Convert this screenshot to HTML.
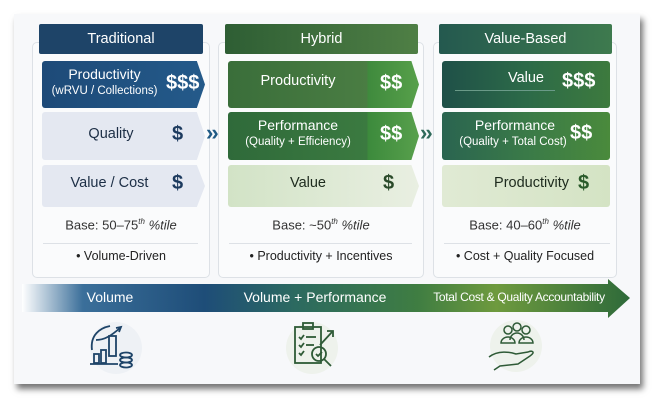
<!DOCTYPE html>
<html><head><meta charset="utf-8"><style>
*{margin:0;padding:0;box-sizing:border-box}
body{width:659px;height:402px;background:#fff;position:relative;overflow:hidden;font-family:"Liberation Sans",sans-serif}
.card{position:absolute;left:14px;top:14px;width:626px;height:370px;background:#f7f8fa;box-shadow:3px 5px 6px rgba(0,0,0,.55)}
.a{position:absolute}
.panel{position:absolute;border:1px solid #dde1e6;border-radius:5px;background:#fafbfc}
.hdr{position:absolute;color:#fff;font-size:14.5px;text-align:center;line-height:30px;border-radius:2px}
.row{position:absolute;display:flex;align-items:center;border-radius:3px}
.lbl{text-align:center;line-height:15px}
.dol{position:absolute;font-size:20px;font-weight:bold}
.base{position:absolute;font-size:13px;color:#333;text-align:center}
.base sup{font-size:8px;font-style:italic}
.base i{font-style:italic}
.hr{position:absolute;height:1px;background:#dde1e6}
.bul{position:absolute;font-size:12.5px;color:#222;text-align:center}
.chev{position:absolute;font-size:22px;font-weight:bold;color:#1f5a85;letter-spacing:-2px}
</style></head><body>
<div class="card"></div>

<!-- Traditional -->
<div class="panel" style="left:32px;top:42px;width:178px;height:236px"></div>
<div class="hdr" style="left:39px;top:24px;width:164px;background:#1e4468">Traditional</div>
<div class="row" style="left:42px;top:61px;width:163px;height:47px;background:linear-gradient(90deg,#1d4a78,#245a8a);clip-path:polygon(0 0,95% 0,100% 50%,95% 100%,0 100%)"></div>
<div class="a lbl" style="left:42px;top:67px;width:125px;color:#fff;font-size:14px">Productivity<br><span style="font-size:11.5px">(wRVU / Collections)</span></div>
<div class="dol" style="left:166px;top:72px;color:#fff">$$$</div>
<div class="row" style="left:42px;top:112px;width:163px;height:48px;background:#e4e8f1;clip-path:polygon(0 0,95% 0,100% 50%,95% 100%,0 100%)"></div>
<div class="a" style="left:42px;top:126px;width:138px;text-align:center;font-size:14.5px;color:#1c2e45">Quality</div>
<div class="dol" style="left:172px;top:123px;color:#1c3a5e">$</div>
<div class="row" style="left:42px;top:165px;width:163px;height:42px;background:#e4e8f1;clip-path:polygon(0 0,95% 0,100% 50%,95% 100%,0 100%)"></div>
<div class="a" style="left:42px;top:175px;width:135px;text-align:center;font-size:14.5px;color:#1c2e45">Value / Cost</div>
<div class="dol" style="left:172px;top:172px;color:#1c3a5e">$</div>
<div class="base" style="left:32px;top:217px;width:178px">Base: 50–75<sup>th</sup> <i>%tile</i></div>
<div class="hr" style="left:43px;top:243px;width:155px"></div>
<div class="bul" style="left:32px;top:249px;width:178px">• Volume-Driven</div>

<div class="chev" style="left:206px;top:120px">››</div>

<!-- Hybrid -->
<div class="panel" style="left:218px;top:42px;width:206px;height:236px"></div>
<div class="hdr" style="left:225px;top:24px;width:193px;background:linear-gradient(90deg,#2e5e34,#4f7f45)">Hybrid</div>
<div class="row" style="left:228px;top:61px;width:191px;height:47px;background:linear-gradient(90deg,#3a6e3a 0,#4a7d43 73%,#3f8a3d 73%,#57a04a);clip-path:polygon(0 0,96% 0,100% 50%,96% 100%,0 100%)"></div>
<div class="a" style="left:228px;top:73px;width:140px;text-align:center;color:#fff;font-size:14.5px">Productivity</div>
<div class="dol" style="left:380px;top:72px;color:#fff">$$</div>
<div class="row" style="left:228px;top:112px;width:191px;height:48px;background:linear-gradient(90deg,#2f6a3a 0,#3b7a40 73%,#3c8a3c 73%,#58a04c);clip-path:polygon(0 0,96% 0,100% 50%,96% 100%,0 100%)"></div>
<div class="a lbl" style="left:228px;top:118px;width:140px;color:#fff;font-size:14px">Performance<br><span style="font-size:11.5px">(Quality + Efficiency)</span></div>
<div class="dol" style="left:380px;top:123px;color:#fff">$$</div>
<div class="row" style="left:228px;top:165px;width:191px;height:42px;background:linear-gradient(90deg,#d2e3c6,#e9efe2);clip-path:polygon(0 0,96% 0,100% 50%,96% 100%,0 100%)"></div>
<div class="a" style="left:228px;top:175px;width:160px;text-align:center;font-size:14.5px;color:#1d2a1d">Value</div>
<div class="dol" style="left:383px;top:172px;color:#2a4a2a">$</div>
<div class="base" style="left:218px;top:217px;width:206px">Base: ~50<sup>th</sup> <i>%tile</i></div>
<div class="hr" style="left:229px;top:243px;width:183px"></div>
<div class="bul" style="left:218px;top:249px;width:206px">• Productivity + Incentives</div>

<div class="chev" style="left:420px;top:120px;color:#2f6a5a">››</div>

<!-- Value-Based -->
<div class="panel" style="left:433px;top:42px;width:184px;height:236px"></div>
<div class="hdr" style="left:439px;top:24px;width:173px;background:linear-gradient(90deg,#24594f,#3e7a4e)">Value-Based</div>
<div class="row" style="left:442px;top:61px;width:168px;height:47px;background:linear-gradient(90deg,#1f5048,#2c6a48,#3d7a3e)"></div>
<div class="a" style="left:442px;top:70px;width:102px;text-align:right;color:#fff;font-size:14.5px">Value</div>
<div class="hr" style="left:455px;top:90px;width:100px;background:#6a9a88"></div>
<div class="dol" style="left:562px;top:70px;color:#fff">$$$</div>
<div class="row" style="left:442px;top:112px;width:168px;height:48px;background:linear-gradient(90deg,#2a6450,#3a7a48,#4a8a3c)"></div>
<div class="a lbl" style="left:456px;top:118px;width:118px;color:#fff;font-size:14px">Performance<br><span style="font-size:11.5px;white-space:nowrap;margin-left:-4px">(Quality + Total Cost)</span></div>
<div class="dol" style="left:570px;top:122px;color:#fff">$$</div>
<div class="row" style="left:442px;top:165px;width:168px;height:42px;background:linear-gradient(90deg,#e0ead4,#d4e3c4)"></div>
<div class="a" style="left:442px;top:175px;width:127px;text-align:right;font-size:14.5px;color:#1d2a1d">Productivity</div>
<div class="dol" style="left:578px;top:172px;color:#2a5a2a">$</div>
<div class="base" style="left:433px;top:217px;width:184px">Base: 40–60<sup>th</sup> <i>%tile</i></div>
<div class="hr" style="left:444px;top:243px;width:166px"></div>
<div class="bul" style="left:433px;top:249px;width:184px">• Cost + Quality Focused</div>

<!-- Band arrow -->
<svg class="a" style="left:0;top:0" width="659" height="402">
<defs>
<linearGradient id="g" x1="0" x2="1">
<stop offset="0" stop-color="#fff"/><stop offset="0.1" stop-color="#3b6f9a"/><stop offset="0.3" stop-color="#1e4d78"/><stop offset="0.45" stop-color="#2c6a60"/><stop offset="0.65" stop-color="#3f7d42"/><stop offset="0.78" stop-color="#6e9a3e"/><stop offset="1" stop-color="#2e6a3a"/></linearGradient>
</defs>
<polygon points="22,284 608,284 608,279 630,298 608,318 608,312 22,312" fill="url(#g)"/>
<circle cx="116" cy="348" r="26" fill="#eef1f5"/>
<circle cx="312" cy="348" r="26" fill="#eef2ec"/>
<circle cx="516" cy="346" r="26" fill="#eef2ec"/>
<g fill="none" stroke="#1e4468" stroke-width="1.8">
<path d="M92,350 C90,335 100,328 110,326"/><path d="M96,340 C105,340 112,335 120,328"/><path d="M116,328 L121,327 L119,332"/>
<line x1="90" y1="364" x2="118" y2="364"/>
<rect x="94" y="354" width="5" height="9"/><rect x="101" y="350" width="5" height="13"/><rect x="109" y="336" width="7" height="20"/>
<ellipse cx="126" cy="355" rx="6" ry="2.5"/><ellipse cx="126" cy="360" rx="6" ry="2.5"/><ellipse cx="126" cy="365" rx="6" ry="2.5"/>
</g>
<g fill="none" stroke="#2e5a36" stroke-width="1.8">
<rect x="295" y="327" width="26" height="36"/><rect x="303" y="323" width="10" height="6"/>
<path d="M299,337 l2,2 l3,-4 M299,345 l2,2 l3,-4 M299,353 l2,2 l3,-4"/><line x1="306" y1="337" x2="316" y2="337"/><line x1="306" y1="345" x2="314" y2="345"/>
<circle cx="319" cy="354" r="7"/><path d="M316,354 l2,2 l4,-4"/><line x1="324" y1="359" x2="331" y2="366"/>
<line x1="320" y1="345" x2="332" y2="332"/><path d="M327,331 L333,331 L333,337"/>
</g>
<g fill="none" stroke="#2e5a36" stroke-width="1.5">
<circle cx="508" cy="330" r="4"/><circle cx="517" cy="327" r="4"/><circle cx="526" cy="330" r="4"/>
<path d="M501,343 a7,6 0 0 1 14,0 z"/><path d="M510,340 a7,7 0 0 1 14,0"/><path d="M519,343 a7,6 0 0 1 14,0 z"/>
<path d="M489,357 C498,350 510,352 516,354 L528,352 C532,350 536,352 530,356 L518,364 L500,366 L494,370"/>
</g>
</svg>
<div class="a" style="left:60px;top:289px;width:100px;text-align:center;color:#fff;font-size:14px">Volume</div>
<div class="a" style="left:230px;top:289px;width:170px;text-align:center;color:#fff;font-size:14px">Volume + Performance</div>
<div class="a" style="left:415px;top:290px;width:208px;text-align:center;color:#fff;font-size:12px;letter-spacing:-0.3px">Total Cost &amp; Quality Accountability</div>
</body></html>
